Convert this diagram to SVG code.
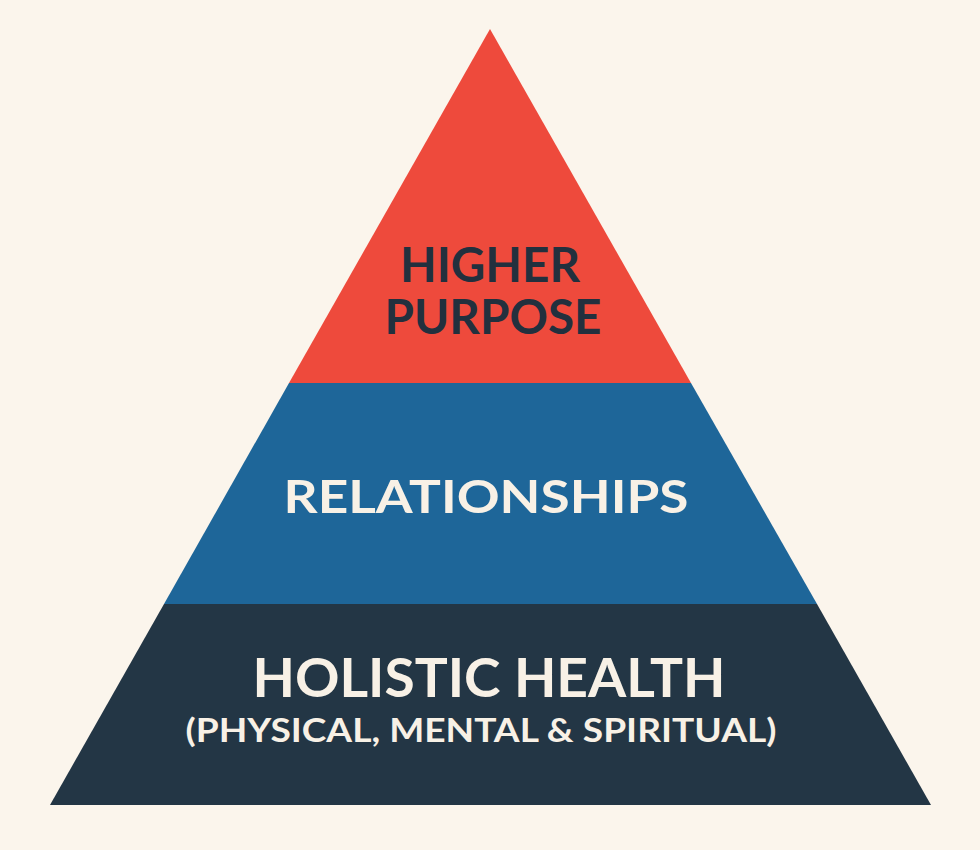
<svg xmlns="http://www.w3.org/2000/svg" width="980" height="850" viewBox="0 0 980 850">
<style>
.lbl{font-family:Lato,"Open Sans","DejaVu Sans",sans-serif;font-weight:700;text-anchor:middle}
.dark{fill:#22303e}
.light{fill:#f8f1e6}
</style>
<rect width="980" height="850" fill="#fbf5ec"/>
<g id="level-top">
<polygon points="490,29 289,383 691,383" fill="#ee4a3c"/>
<text class="lbl dark" x="490" y="282" font-size="47" textLength="180" lengthAdjust="spacingAndGlyphs">HIGHER</text>
<text class="lbl dark" x="493" y="334" font-size="47" textLength="217" lengthAdjust="spacingAndGlyphs">PURPOSE</text>
</g>
<g id="level-middle">
<polygon points="289,383 691,383 817,604 164,604" fill="#1e6699"/>
<text class="lbl light" x="486" y="513" font-size="45" textLength="405" lengthAdjust="spacingAndGlyphs">RELATIONSHIPS</text>
</g>
<g id="level-bottom">
<polygon points="164,604 817,604 931,805 50,805" fill="#233645"/>
<text class="lbl light" x="489" y="697" font-size="54" textLength="473" lengthAdjust="spacingAndGlyphs">HOLISTIC HEALTH</text>
<text class="lbl light" x="481" y="742" font-size="33" textLength="591" lengthAdjust="spacingAndGlyphs">(PHYSICAL, MENTAL &amp; SPIRITUAL)</text>
</g>
<g id="connectors"/>
</svg>
